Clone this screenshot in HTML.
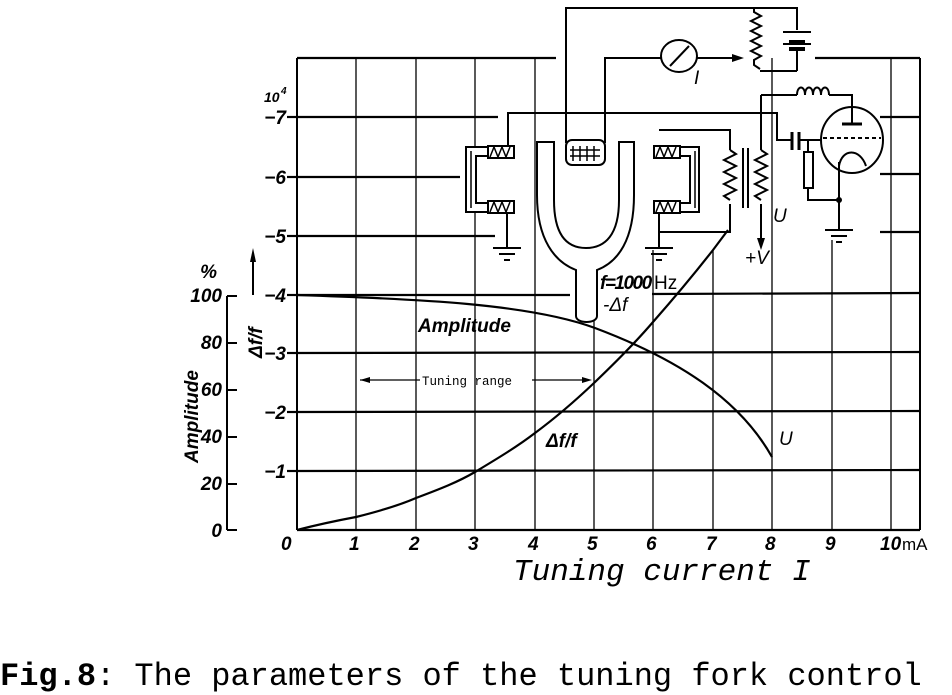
<!DOCTYPE html>
<html><head><meta charset="utf-8"><style>
html,body{margin:0;padding:0;background:#fff;}
svg{display:block;}
.l{font-family:"Liberation Sans",sans-serif;font-style:italic;font-size:19px;}
.m{font-family:"Liberation Mono",monospace;}
</style></head><body>
<svg width="952" height="695" viewBox="0 0 952 695" xmlns="http://www.w3.org/2000/svg">
<g stroke="#000" fill="none">
<g stroke-width="1.3">
<line x1="297" y1="58" x2="297" y2="530" stroke-width="2"/>
<line x1="356" y1="58" x2="356" y2="530"/>
<line x1="416" y1="58" x2="416" y2="530"/>
<line x1="475" y1="58" x2="475" y2="530"/>
<line x1="535" y1="58" x2="535" y2="530"/>
<line x1="594" y1="320" x2="594" y2="530"/>
<line x1="653" y1="250" x2="653" y2="530"/>
<line x1="713" y1="250" x2="713" y2="530"/>
<line x1="772" y1="58" x2="772" y2="530"/>
<line x1="832" y1="240" x2="832" y2="530"/>
<line x1="891" y1="58" x2="891" y2="530"/>
<line x1="920" y1="58" x2="920" y2="530" stroke-width="2"/>
</g>
<g stroke-width="2.2">
<line x1="297" y1="58" x2="556" y2="58"/><line x1="815" y1="58" x2="920" y2="58"/>
<line x1="297" y1="117" x2="498" y2="117"/><line x1="880" y1="117" x2="920" y2="117"/>
<line x1="297" y1="177" x2="460" y2="177"/><line x1="880" y1="174" x2="920" y2="174"/>
<line x1="297" y1="236" x2="495" y2="236"/><line x1="880" y1="232" x2="920" y2="232"/>
<line x1="297" y1="295" x2="570" y2="295"/><line x1="652" y1="294" x2="920" y2="293"/>
<line x1="297" y1="353" x2="920" y2="352"/>
<line x1="297" y1="412" x2="920" y2="411"/>
<line x1="297" y1="471" x2="920" y2="470"/>
<line x1="297" y1="530" x2="920" y2="530"/>
<line x1="287" y1="117" x2="297" y2="117"/><line x1="287" y1="177" x2="297" y2="177"/><line x1="287" y1="236" x2="297" y2="236"/><line x1="287" y1="295" x2="297" y2="295"/><line x1="287" y1="353" x2="297" y2="353"/><line x1="287" y1="412" x2="297" y2="412"/><line x1="287" y1="471" x2="297" y2="471"/>
</g>
<g stroke-width="2">
<line x1="227" y1="296" x2="227" y2="530"/>
<line x1="227" y1="296" x2="237" y2="296"/>
<line x1="227" y1="343" x2="237" y2="343"/>
<line x1="227" y1="390" x2="237" y2="390"/>
<line x1="227" y1="437" x2="237" y2="437"/>
<line x1="227" y1="484" x2="237" y2="484"/>
<line x1="227" y1="530" x2="237" y2="530"/>
<line x1="253" y1="295" x2="253" y2="258"/>
</g>
<polygon points="253,248 250,262 256,262" fill="#000" stroke="none"/>
<path d="M297,530 C320,524 340,520 356,517 C380,511 400,505 416,498 C440,489 458,482 475,472 C500,457 518,446 535,433 C558,416 575,401 594,383 C615,363 635,343 653,322 C675,297 695,273 713,250 L728,230" stroke-width="2.2"/>
<path d="M297,295 C420,299 530,304 595,328 C680,360 740,400 772,457" stroke-width="2.2"/>
<line x1="360" y1="380" x2="420" y2="380" stroke-width="1.3"/>
<line x1="532" y1="380" x2="585" y2="380" stroke-width="1.3"/>
</g>
<polygon points="360,380 370,377 370,383" fill="#000"/>
<polygon points="592,380 582,377 582,383" fill="#000"/>
<text x="422" y="385" class="m" font-size="12.5">Tuning range</text>

<g stroke="#000" fill="none" stroke-width="2">
<polyline points="566,143 566,8 797,8 797,30"/>
<line x1="797" y1="50" x2="797" y2="71"/>
<polyline points="797,71 760,71"/>
<path d="M754,8 l0,4 l7,4 l-10,5 l10,5 l-10,5 l10,5 l-10,5 l10,5 l-10,5 l10,5 l-7,4 l0,5 l6,4"/>
<line x1="783" y1="32" x2="811" y2="32"/>
<line x1="789" y1="42" x2="805" y2="42" stroke-width="4"/>
<line x1="783" y1="44" x2="811" y2="44"/>
<line x1="789" y1="49" x2="805" y2="49" stroke-width="4"/>
<polyline points="605,143 605,58 661,58"/>
<ellipse cx="679" cy="56" rx="18" ry="16" fill="#fff"/>
<line x1="670" y1="66" x2="689" y2="46"/>
<line x1="697" y1="58" x2="740" y2="58"/>
<polyline points="508,148 508,113 777,113 777,140 792,140"/>
<path d="M514,147 L466,147 L466,212 L514,212 L514,203 L476,203 L476,156 L514,156 Z" fill="#fff"/>
<path d="M471,151 L471,208" stroke-width="1.5"/>
<rect x="488" y="146" width="26" height="12" fill="#fff"/>
<path d="M490,157 l4,-10 l4,10 l4,-10 l4,10 l4,-10" stroke-width="1.5"/>
<rect x="488" y="201" width="26" height="12" fill="#fff"/>
<path d="M490,212 l4,-10 l4,10 l4,-10 l4,10 l4,-10" stroke-width="1.5"/>
<line x1="507" y1="212" x2="507" y2="248"/>
<path d="M537,142 L537,195 C537,240 555,262 576,270 L576,316 C576,324 597,324 597,316 L597,270 C618,262 634,240 634,195 L634,142 L619,142 L619,200 C619,235 605,248 586,248 C567,248 554,235 554,200 L554,142 Z" fill="#fff"/>
<rect x="566" y="140" width="39" height="25" rx="6" fill="#fff"/>
<path d="M573,146 v15 M580,146 v15 M587,146 v15 M594,146 v15 M570,150 h30 M570,156 h30" stroke-width="1.5"/>
<path d="M654,147 L699,147 L699,212 L654,212 L654,203 L690,203 L690,156 L654,156 Z" fill="#fff"/>
<path d="M695,151 L695,208" stroke-width="1.5"/>
<rect x="654" y="146" width="26" height="12" fill="#fff"/>
<path d="M656,157 l4,-10 l4,10 l4,-10 l4,10 l4,-10" stroke-width="1.5"/>
<rect x="654" y="201" width="26" height="12" fill="#fff"/>
<path d="M656,212 l4,-10 l4,10 l4,-10 l4,10 l4,-10" stroke-width="1.5"/>
<line x1="659" y1="212" x2="659" y2="248"/>
<polyline points="659,130 730,130 730,150"/>
<path d="M730,150 l6,4 l-12,6 l12,6 l-12,6 l12,6 l-12,6 l12,6 l-12,6 l6,4"/>
<polyline points="730,204 730,232 659,232"/>
<line x1="743" y1="148" x2="743" y2="208"/><line x1="748" y1="148" x2="748" y2="208"/>
<polyline points="761,95 761,150"/>
<path d="M761,150 l6,4 l-12,6 l12,6 l-12,6 l12,6 l-12,6 l12,6 l-12,6 l6,4"/>
<line x1="761" y1="204" x2="761" y2="232"/>
<polyline points="761,95 797,95"/>
<path d="M797,95 c0,-10 8,-10 8,0 c0,-10 8,-10 8,0 c0,-10 8,-10 8,0 c0,-10 8,-10 8,0" />
<polyline points="829,95 852,95 852,124"/>
<line x1="792" y1="132" x2="792" y2="150" stroke-width="3"/>
<line x1="799" y1="132" x2="799" y2="150" stroke-width="3"/>
<line x1="799" y1="140" x2="821" y2="140"/>
<ellipse cx="852" cy="140" rx="31" ry="33" fill="none"/>
<line x1="842" y1="124" x2="862" y2="124" stroke-width="3"/>
<line x1="823" y1="138" x2="881" y2="138" stroke-dasharray="4,3"/>
<path d="M839,166 C842,148 860,148 866,166"/>
<line x1="839" y1="162" x2="839" y2="230"/>
<line x1="808" y1="140" x2="808" y2="152"/>
<rect x="804" y="152" width="9" height="36" fill="#fff"/>
<polyline points="808,188 808,200 839,200"/>
<circle cx="839" cy="200" r="2" fill="#000"/>
</g>
<g stroke="#000" stroke-width="2">
<line x1="493" y1="248" x2="521" y2="248"/><line x1="499" y1="254" x2="515" y2="254"/><line x1="504" y1="260" x2="510" y2="260"/>
<line x1="645" y1="248" x2="673" y2="248"/><line x1="651" y1="254" x2="667" y2="254"/><line x1="656" y1="260" x2="662" y2="260"/>
<line x1="825" y1="230" x2="853" y2="230"/><line x1="831" y1="236" x2="847" y2="236"/><line x1="836" y1="242" x2="842" y2="242"/>
<line x1="761" y1="232" x2="761" y2="240"/>
</g>
<polygon points="761,250 757,238 765,238" fill="#000"/>
<polygon points="744,58 732,54 732,62" fill="#000"/>
<text x="694" y="84" class="l" font-size="20">I</text>
<text x="773" y="222" class="l" font-size="18">U</text>
<text x="745" y="264" class="l" font-size="18">+V</text>
<text x="600" y="289" class="l" font-size="17" font-weight="bold" letter-spacing="-1.5">f=1000</text><text x="654" y="289" font-family="Liberation Sans" font-size="19">Hz</text>
<text x="603" y="311" class="l" font-size="18">-Δf</text>

<g class="l" font-size="17" font-weight="bold">
<text x="264" y="102" font-size="14">10</text><text x="281" y="94" font-size="10">4</text>
<g text-anchor="end">
<text x="286" y="124">−7</text><text x="286" y="184">−6</text><text x="286" y="243">−5</text>
<text x="286" y="302">−4</text><text x="286" y="360">−3</text><text x="286" y="419">−2</text><text x="286" y="478">−1</text>
</g>
<text x="281" y="550">0</text><text x="349" y="550">1</text><text x="409" y="550">2</text><text x="468" y="550">3</text>
<text x="528" y="550">4</text><text x="587" y="550">5</text><text x="646" y="550">6</text><text x="706" y="550">7</text>
<text x="765" y="550">8</text><text x="825" y="550">9</text><text x="880" y="550">10</text>
<text x="902" y="550" font-style="normal" font-weight="normal" font-family="Liberation Sans" font-size="17">mA</text>
</g>
<g class="l" font-size="16" font-weight="bold" text-anchor="end">
<text x="222" y="302">100</text><text x="222" y="349">80</text><text x="222" y="396">60</text>
<text x="222" y="443">40</text><text x="222" y="490">20</text><text x="222" y="537">0</text>
<text x="217" y="278">%</text>
</g>
<text class="l" font-size="20" font-weight="bold" transform="translate(198,463) rotate(-90)">Amplitude</text>
<text class="l" font-size="20" font-weight="bold" transform="translate(262,358) rotate(-90)">Δf/f</text>
<text x="418" y="332" class="l" font-size="17" font-weight="bold">Amplitude</text>
<text x="546" y="447" class="l" font-size="18" font-weight="bold">Δf/f</text>
<text x="779" y="445" class="l" font-size="18">U</text>
<text x="513" y="580" class="m" font-size="31" font-style="italic">Tuning current I</text>
<text x="0" y="685" class="m" font-size="32"><tspan font-weight="bold">Fig.8</tspan>: The parameters of the tuning fork control</text>
</svg>
</body></html>
